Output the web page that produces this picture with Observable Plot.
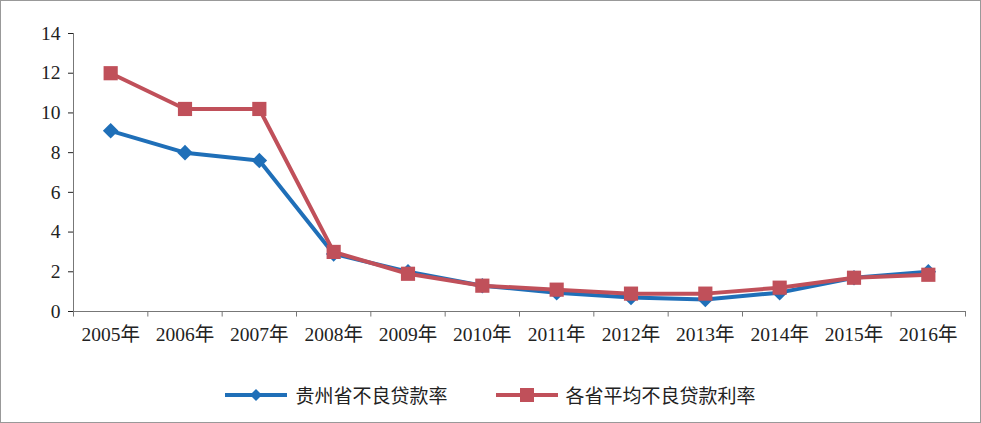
<!DOCTYPE html>
<html><head><meta charset="utf-8">
<script src="https://cdn.jsdelivr.net/npm/d3@7"></script>
<script src="https://cdn.jsdelivr.net/npm/@observablehq/plot@0.6"></script>
<style>
body{margin:0;background:#fff;font-family:"Liberation Serif","Noto Sans CJK SC",serif;}
#wrap{position:relative;width:979px;height:421px;border:1px solid #999;}
#leg{position:absolute;top:380px;left:0;width:100%;display:flex;justify-content:center;gap:48px;font-size:19px;color:#222;}
#leg span{display:flex;align-items:center;gap:8px}
</style></head><body>
<div id="wrap"><div id="chart"></div>
<div id="leg"><span><svg width="62" height="14"><line x1="0" x2="62" y1="7" y2="7" stroke="#1f6fb8" stroke-width="4"/><path d="M31 1 L37 7 L31 13 L25 7Z" fill="#1f6fb8"/></svg>贵州省不良贷款率</span>
<span><svg width="62" height="16"><line x1="0" x2="62" y1="8" y2="8" stroke="#c0505a" stroke-width="4"/><rect x="24" y="1" width="14" height="14" fill="#c0505a"/></svg>各省平均不良贷款利率</span></div>
</div>
<script>
const years = ["2005年","2006年","2007年","2008年","2009年","2010年","2011年","2012年","2013年","2014年","2015年","2016年"];
const guizhou = [9.1,8.0,7.6,2.9,2.0,1.3,0.95,0.7,0.6,0.95,1.7,2.0];
const average = [12.0,10.2,10.2,3.0,1.9,1.3,1.1,0.9,0.9,1.2,1.7,1.85];
const g = years.map((y,i)=>({i,v:guizhou[i]}));
const a = years.map((y,i)=>({i,v:average[i]}));
const bounds = d3.range(0,13).map(k=>k-0.5);
const chart = Plot.plot({
  width:979,height:362,marginLeft:72,marginRight:15,marginTop:32,marginBottom:52,
  style:{fontFamily:"Liberation Serif, Noto Sans CJK SC, serif",fontSize:"19.5px",color:"#222"},
  x:{domain:[-0.5,11.5],ticks:d3.range(12),tickFormat:i=>years[i],label:null,tickSize:0,tickPadding:16},
  y:{domain:[0,14],ticks:d3.range(0,15,2),label:null,tickSize:5,tickPadding:8},
  marks:[
    Plot.ruleY([0],{stroke:"#777"}),
    Plot.ruleX([-0.5],{y1:0,y2:14,stroke:"#777"}),
    Plot.ruleX(bounds,{x:d=>d,y1:0,y2:-0.28,stroke:"#777"}),
    Plot.line(g,{x:"i",y:"v",stroke:"#1f6fb8",strokeWidth:4}),
    Plot.dot(g,{x:"i",y:"v",symbol:"diamond2",r:7,fill:"#1f6fb8",stroke:"none"}),
    Plot.line(a,{x:"i",y:"v",stroke:"#c0505a",strokeWidth:4}),
    Plot.dot(a,{x:"i",y:"v",symbol:"square",r:8,fill:"#c0505a",stroke:"none"})
  ]
});
document.getElementById("chart").appendChild(chart);
</script></body></html>
